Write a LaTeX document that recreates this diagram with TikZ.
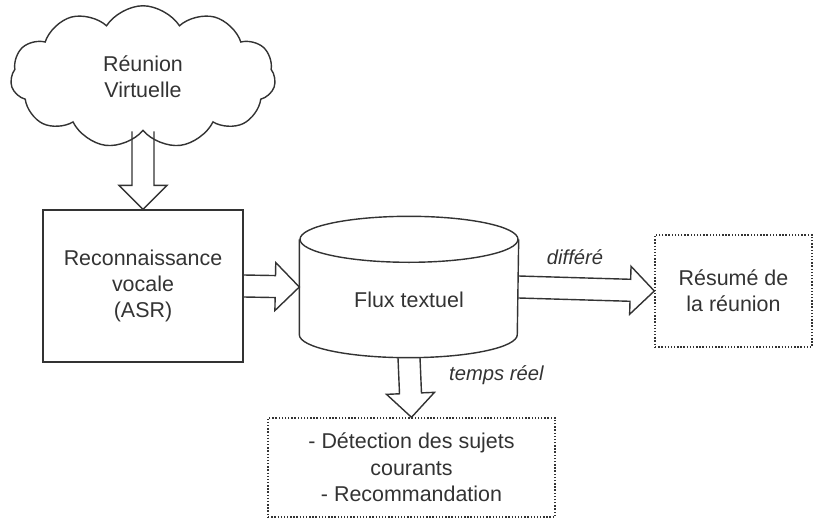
\documentclass[tikz,border=0pt]{standalone}
\usepackage{fontspec}
\setmainfont{Liberation Sans}
\usetikzlibrary{shapes,calc,positioning}
\tikzstyle{box} = [draw=black!80, line width=0.8pt, align=center, inner sep=0pt, text=black!80, font=\fontsize{12.2}{15}\selectfont]
\tikzstyle{dotbox} = [box, densely dotted]
\tikzstyle{blockarrow} = [draw=black!80, line width=0.8pt, line join=miter]
\tikzstyle{lbl} = [text=black!80, font=\fontsize{11.5}{14}\selectfont\itshape]
\newcommand{\hollowarrow}[2]{%
\path ($(#2)!0.48cm!(#1)$) coordinate (hb);
\draw[blockarrow] ($(#1)!0.22cm!90:(#2)$) -- ($(hb)!0.22cm!90:(#2)$)
  -- ($(hb)!0.48cm!90:(#2)$) -- (#2) -- ($(hb)!0.48cm!-90:(#2)$)
  -- ($(hb)!0.22cm!-90:(#2)$) -- ($(#1)!0.22cm!-90:(#2)$);}

\begin{document}
\begin{tikzpicture}[x=0.02cm, y=-0.02cm]
\useasboundingbox (0,0) rectangle (815,520);

% noeuds
\node[box, cloud, cloud puffs=11, cloud puff arc=115, aspect=1.9,
  minimum width=5.3cm, minimum height=2.85cm] (reunion) at (143,77) {R\'eunion\\Virtuelle};
\node[box, minimum width=4cm, minimum height=3.04cm] (asr) at (143,286)
  {Reconnaissance\\vocale\\(ASR)};
\node[box, draw=none, minimum width=4.36cm, minimum height=2.8cm] (flux) at (409,287) {};
\node[box, draw=none] (fluxtxt) at (409,300) {Flux textuel};
\node[dotbox, minimum width=3.14cm, minimum height=2.24cm] (resume) at (733.5,291)
  {R\'esum\'e de\\la r\'eunion};
\node[dotbox, minimum width=5.74cm, minimum height=1.98cm] (detect) at (411.5,467.5)
  {- D\'etection des sujets\\courants\\- Recommandation};

% cylindre
\draw[blockarrow] ([yshift=-0.46cm]flux.north) ellipse [x radius=2.18cm, y radius=0.46cm];
\draw[blockarrow] ([yshift=-0.46cm]flux.north west) -- ([yshift=0.46cm]flux.south west)
  arc[start angle=180, end angle=360, x radius=2.18cm, y radius=0.46cm]
  -- ([yshift=-0.46cm]flux.north east);

% fleches
\hollowarrow{reunion.south}{asr.north}
\hollowarrow{asr.east}{flux.west}
\hollowarrow{flux.east}{resume.west}
\hollowarrow{flux.south}{detect.north}

\node[lbl] (differe) at (575,257) {diff\'er\'e};
\node[lbl, anchor=west] (temps) at (443,375) {temps r\'eel};
\end{tikzpicture}
\end{document}
